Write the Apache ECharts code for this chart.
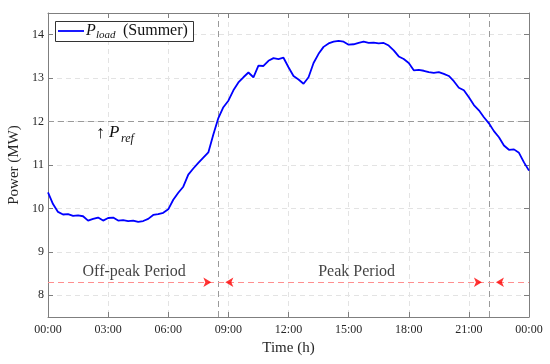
<!DOCTYPE html>
<html>
<head>
<meta charset="utf-8">
<script src="https://cdn.jsdelivr.net/npm/echarts@6/dist/echarts.min.js"></script>
<style>
html,body{margin:0;padding:0;background:#fff;}
#chart{width:550px;height:364px;}
</style>
</head>
<body>
<div id="chart"></div>
<script>
// ---- data ----
const hours = [
  0.00,0.25,0.50,0.75,1.00,1.25,1.50,1.75,2.00,2.25,2.50,2.75,
  3.00,3.25,3.50,3.75,4.00,4.25,4.50,4.75,5.00,5.25,5.50,5.75,
  6.00,6.25,6.50,6.75,7.00,7.25,7.50,7.75,8.00,8.25,8.50,8.75,
  9.00,9.25,9.50,9.75,10.00,10.25,10.50,10.75,11.00,11.25,11.50,11.75,
  12.00,12.25,12.50,12.75,13.00,13.25,13.50,13.75,14.00,14.25,14.50,14.75,
  15.00,15.25,15.50,15.75,16.00,16.25,16.50,16.75,17.00,17.25,17.50,17.75,
  18.00,18.25,18.50,18.75,19.00,19.25,19.50,19.75,20.00,20.25,20.50,20.75,
  21.00,21.25,21.50,21.75,22.00,22.25,22.50,22.75,23.00,23.25,23.50,23.75,24.00
];
const loadSummer = [
  10.37,10.10,9.92,9.86,9.87,9.83,9.84,9.82,9.72,9.76,9.79,9.72,
  9.78,9.79,9.72,9.73,9.71,9.72,9.69,9.71,9.76,9.85,9.87,9.90,
  9.98,10.20,10.36,10.50,10.78,10.92,11.05,11.17,11.29,11.70,12.08,12.33,
  12.48,12.72,12.90,13.02,13.13,13.02,13.29,13.28,13.40,13.46,13.44,13.47,
  13.25,13.05,12.97,12.87,13.02,13.35,13.56,13.72,13.80,13.84,13.86,13.84,
  13.77,13.78,13.81,13.84,13.81,13.82,13.80,13.81,13.75,13.64,13.50,13.44,
  13.35,13.18,13.19,13.17,13.14,13.12,13.14,13.10,13.05,12.93,12.78,12.72,
  12.56,12.38,12.26,12.10,11.96,11.78,11.64,11.45,11.35,11.36,11.28,11.06,10.87
];
const xTickLabels = ['00:00','03:00','06:00','09:00','12:00','15:00','18:00','21:00','00:00'];
const yTicks = [8,9,10,11,12,13,14];
const pRef = 12;
const periodBoundaries = [8.5, 22];
const periodLineLevel = 8.3;
const periodLabels = ['Off-peak Period', 'Peak Period'];
const periodLabelHours = [4.3, 15.4];
const periodLabelLevel = 8.53;

// ---- chart ----
const chart = echarts.init(document.getElementById('chart'), null, {renderer:'canvas'});
const FONT = '"Liberation Serif","Times New Roman",serif';
const axisGray = '#7f7f7f';
const gridDash = {color:'#e3e3e3', type:[5,4], width:1};

const seriesData = hours.map((h,i)=>[h, loadSummer[i]]);
const arrowData = [];
periodBoundaries.forEach(b=>{
  arrowData.push({value:[b, periodLineLevel], symbolRotate:-90, symbolOffset:[-7,0]});
  arrowData.push({value:[b, periodLineLevel], symbolRotate:90, symbolOffset:[7,0]});
});

const option = {
  animation:false,
  backgroundColor:'#fff',
  grid:{left:48, right:21, top:13, bottom:47, containLabel:false, outerBoundsMode:'none'},
  xAxis:[{
    type:'value', min:0, max:24, interval:3, position:'bottom',
    axisLine:{show:true, onZero:false, lineStyle:{color:axisGray,width:1}},
    axisTick:{show:true, inside:true, length:5, lineStyle:{color:axisGray}},
    axisLabel:{margin:7, color:'#262626', fontFamily:FONT, fontSize:12,
      formatter:(v)=>xTickLabels[Math.round(v/3)]},
    splitLine:{show:true, lineStyle:gridDash},
    name:'Time (h)', nameLocation:'middle', nameGap:24,
    nameTextStyle:{color:'#262626', fontFamily:FONT, fontSize:15}
  },{
    type:'value', min:0, max:24, interval:3, position:'top',
    axisLine:{show:true, onZero:false, lineStyle:{color:axisGray,width:1}},
    axisTick:{show:true, inside:true, length:5, lineStyle:{color:axisGray}},
    axisLabel:{show:false}, splitLine:{show:false}
  }],
  yAxis:[{
    type:'value', min:7.5, max:14.5, position:'left',
    axisLine:{show:true, onZero:false, lineStyle:{color:axisGray,width:1}},
    axisTick:{show:true, inside:true, length:5, lineStyle:{color:axisGray},
      customValues:yTicks},
    axisLabel:{margin:4, color:'#262626', fontFamily:FONT, fontSize:12, customValues:yTicks},
    splitLine:{show:true, lineStyle:gridDash},
    name:'Power (MW)', nameLocation:'middle', nameGap:24, nameRotate:90,
    nameTextStyle:{color:'#262626', fontFamily:FONT, fontSize:15}
  },{
    type:'value', min:7.5, max:14.5, position:'right',
    axisLine:{show:true, onZero:false, lineStyle:{color:axisGray,width:1}},
    axisTick:{show:true, inside:true, length:5, lineStyle:{color:axisGray}, customValues:yTicks},
    axisLabel:{show:false, customValues:yTicks}, splitLine:{show:false}
  }],
  series:[{
    type:'line', name:'load', data:seriesData, xAxisIndex:0, yAxisIndex:0,
    showSymbol:false, symbol:'none',
    lineStyle:{color:'#0000ff', width:1.8},
    z:5,
    markLine:{
      silent:true, symbol:['none','none'], label:{show:false},
      data:[
        {yAxis:pRef, lineStyle:{color:'#9a9a9a', type:[6,4], width:1}},
        {xAxis:periodBoundaries[0], lineStyle:{color:'#9a9a9a', type:[6,4], width:1}},
        {xAxis:periodBoundaries[1], lineStyle:{color:'#9a9a9a', type:[6,4], width:1}},
        {yAxis:periodLineLevel, lineStyle:{color:'#ff8f8f', type:[6,4], width:1}}
      ]
    }
  },{
    type:'scatter', data:arrowData, symbol:'arrow', symbolSize:[7,8],
    itemStyle:{color:'#ff0000'}, silent:true, z:6
  },{
    type:'scatter', symbolSize:0, silent:true, z:6,
    data:periodLabels.map((t,i)=>({value:[periodLabelHours[i], periodLabelLevel], name:t})),
    label:{show:true, position:'inside', formatter:(p)=>p.name, color:'#111',
      fontFamily:FONT, fontSize:16}
  }],
  graphic:[
    // legend box
    {type:'rect', shape:{x:55.5, y:21.5, width:138, height:20},
      style:{fill:'#fff', stroke:'#333', lineWidth:1}, z:100},
    {type:'line', shape:{x1:58, y1:31, x2:84, y2:31},
      style:{stroke:'#0000ff', lineWidth:1.8}, z:101},
    {type:'text', x:86, y:31, style:{text:'P', font:'italic 16px '+FONT, fill:'#111', verticalAlign:'middle', align:'left'}, z:101},
    {type:'text', x:96, y:35, style:{text:'load', font:'italic 11px '+FONT, fill:'#111', verticalAlign:'middle', align:'left'}, z:101},
    {type:'text', x:123, y:31, style:{text:'(Summer)', font:'16px '+FONT, fill:'#111', verticalAlign:'middle', align:'left'}, z:101},
    // P_ref annotation
    {type:'text', x:96, y:133, style:{text:'\u2191', font:'18px '+FONT, fill:'#111', verticalAlign:'middle', align:'left'}, z:101},
    {type:'text', x:109, y:133, style:{text:'P', font:'italic 17px '+FONT, fill:'#111', verticalAlign:'middle', align:'left'}, z:101},
    {type:'text', x:121, y:139, style:{text:'ref', font:'italic 12px '+FONT, fill:'#111', verticalAlign:'middle', align:'left'}, z:101}
  ]
};
chart.setOption(option);
</script>
</body>
</html>
